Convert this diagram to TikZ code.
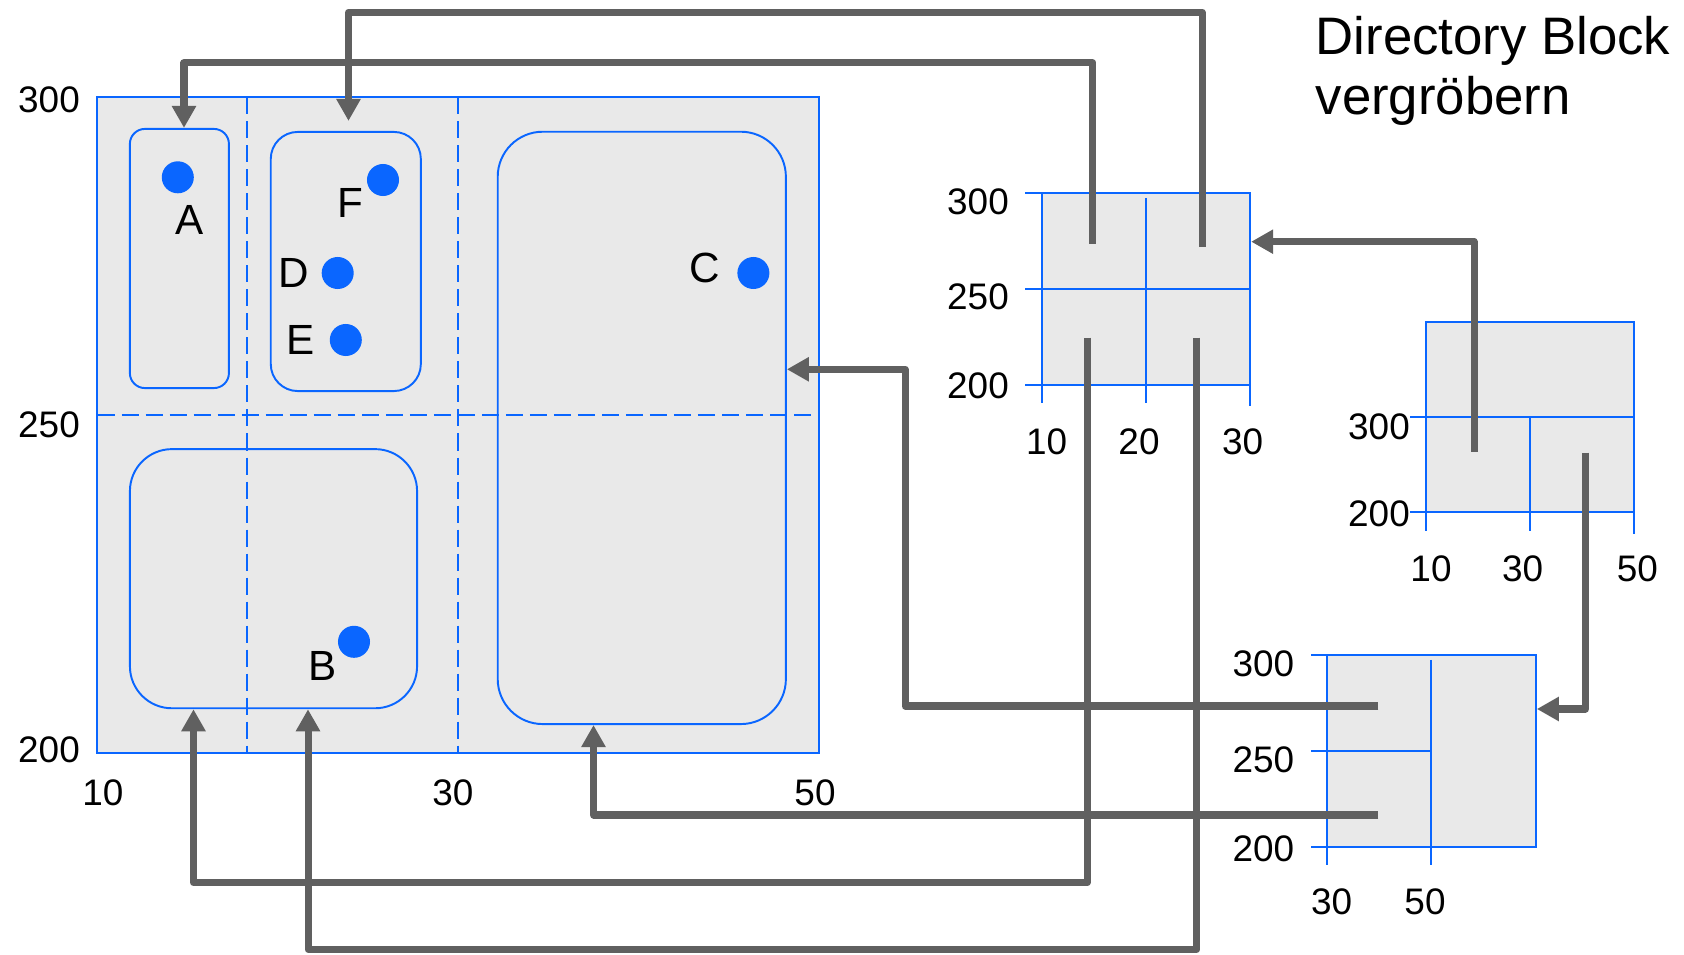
\documentclass[tikz,border=0pt]{standalone}
\usepackage{fontspec}
\setmainfont{Liberation Sans}
\usetikzlibrary{arrows.meta,positioning,calc}
\definecolor{dblue}{HTML}{0A66FF}
\definecolor{dfill}{HTML}{E9E9E9}
\definecolor{dgray}{HTML}{606060}
\tikzset{
  page/.style={draw=dblue,fill=dfill,line width=0.6pt,inner sep=0pt},
  grid/.style={draw=dblue,line width=0.55pt},
  split/.style={draw=dblue,line width=0.55pt,dash pattern=on 0.17cm off 0.07cm},
  region/.style={draw=dblue,line width=0.55pt,inner sep=0pt},
  pt/.style={circle,fill=dblue,inner sep=0pt,minimum size=0.32cm},
  lbl/.style={font=\fontsize{12}{14}\selectfont,inner sep=0pt},
  num/.style={font=\fontsize{10.5}{12}\selectfont,inner sep=0pt},
  conn/.style={-{Triangle[length=0.22cm,width=0.23cm]},line width=0.07cm,draw=dgray,line join=round},
}
\begin{document}
\begin{tikzpicture}[x=0.01cm,y=-0.01cm]
  \useasboundingbox (0,0) rectangle (1684,955);
  % data block with split lines
  \node[page,minimum width=7.21cm,minimum height=6.56cm] (blk) at (458,425.2) {};
  \draw[split] (246.6,97.3) -- (246.6,753);
  \draw[split] (458,97.3) -- (458,753);
  \draw[split] (97.6,415) -- (818.4,415);
  \node[region,rounded corners=0.15cm,minimum width=0.99cm,minimum height=2.59cm] (rA) at (179.4,258.5) {};
  \node[region,rounded corners=0.27cm,minimum width=1.50cm,minimum height=2.59cm] (rDEF) at (345.8,261.5) {};
  \node[region,rounded corners=0.45cm,minimum width=2.88cm,minimum height=5.92cm] (rC) at (641.8,427.9) {};
  \node[region,rounded corners=0.42cm,minimum width=2.87cm,minimum height=2.59cm] (rB) at (273.5,578.7) {};
  \foreach \t/\yy in {300/100,250/425,200/750} { \node[num] (by\t) at (49,\yy) {\t}; }
  \foreach \t/\xx in {10/103,30/453,50/815} { \node[num] (bx\t) at (\xx,793) {\t}; }
  % points
  \node[pt] (dA) at (177.8,177.3) {};
  \node[pt] (dF) at (383,180) {};
  \node[pt] (dD) at (337.7,273) {};
  \node[pt] (dE) at (345.8,340) {};
  \node[pt] (dC) at (753.4,273) {};
  \node[pt] (dB) at (354,641.8) {};
  \node[lbl] (lA) at (189.7,220) {A};
  \node[lbl] (lF) at (350.7,203) {F};
  \node[lbl] (lD) at (294,273) {D};
  \node[lbl] (lE) at (300.8,340) {E};
  \node[lbl] (lC) at (704.6,268) {C};
  \node[lbl] (lB) at (322.5,665.7) {B};
  % directory 1
  \node[page,minimum width=2.077cm,minimum height=1.917cm] (dirI) at (1146.2,289.2) {};
  \foreach \yy in {193.3,289.3,385} { \draw[grid] (1025,\yy) -- (1250,\yy); }
  \draw[grid] (1042.3,193.3) -- (1042.3,403.3);
  \draw[grid] (1146,198) -- (1146,403.3);
  \draw[grid] (1250,193.3) -- (1250,406);
  \foreach \t/\yy in {300/201.7,250/296.7,200/386} { \node[num] (iy\t) at (978,\yy) {\t}; }
  \foreach \t/\xx in {10/1046.7,20/1139,30/1242.7} { \node[num] (ix\t) at (\xx,441.7) {\t}; }
  % directory 2
  \node[page,minimum width=2.08cm,minimum height=1.906cm] (dirII) at (1530,417) {};
  \foreach \yy in {417,512.3} { \draw[grid] (1410,\yy) -- (1634,\yy); }
  \draw[grid] (1426,321.7) -- (1426,530.7);
  \draw[grid] (1530,417) -- (1530,530.7);
  \draw[grid] (1634,321.7) -- (1634,534);
  \foreach \t/\yy in {300/426.7,200/513.3} { \node[num] (iiy\t) at (1379,\yy) {\t}; }
  \foreach \t/\xx in {10/1431,30/1522.7,50/1637.3} { \node[num] (iix\t) at (\xx,568.3) {\t}; }
  % directory 3
  \node[page,minimum width=2.084cm,minimum height=1.917cm] (dirIII) at (1431.5,750.8) {};
  \draw[grid] (1311,655) -- (1535.7,655);
  \draw[grid] (1311,751) -- (1431.3,751);
  \draw[grid] (1311,846.7) -- (1535.7,846.7);
  \draw[grid] (1327.3,655) -- (1327.3,865);
  \draw[grid] (1431.3,660) -- (1431.3,865);
  \foreach \t/\yy in {300/663.3,250/759.3,200/848.3} { \node[num] (iiiy\t) at (1263.3,\yy) {\t}; }
  \foreach \t/\xx in {30/1331.7,50/1425} { \node[num] (iiix\t) at (\xx,901.7) {\t}; }
  % title
  \node[font=\fontsize{15}{17.2}\selectfont,inner sep=0pt,anchor=north west,align=left] (title) at (1315,15.5) {Directory Block\\vergröbern};
  % pointers
  \coordinate (s1) at (1092.7,244);   \coordinate (k1) at (184,62.7);
  \coordinate (s2) at (1202,246.7);   \coordinate (k2) at (348.5,12.3);
  \coordinate (s3) at (1378.3,706);   \coordinate (k3) at (905,369.3);
  \coordinate (s4) at (1087.3,337.7); \coordinate (k4) at (193.5,882.5);
  \coordinate (s5) at (1196.7,337.7); \coordinate (k5) at (308,949.5);
  \coordinate (s6) at (1378.3,815);   \coordinate (k6) at (593.5,815);
  \coordinate (s7) at (1474,451.7);   \coordinate (k7) at (1474,241.7);
  \coordinate (s8) at (1585.7,452.7); \coordinate (k8) at (1585.7,709);
  \draw[conn] (s1) |- (k1) -- (k1 |- rA.north);
  \draw[conn] (s2) |- (k2) -- ($(k2 |- rDEF.north)+(0,-10)$);
  \draw[conn] (s3) -| (k3) -- (k3 -| rC.east);
  \draw[conn] (s4) |- (k4) -- (k4 |- rB.south);
  \draw[conn] (s5) |- (k5) -- (k5 |- rB.south);
  \draw[conn] (s6) -- (k6) -- (k6 |- rC.south);
  \draw[conn] (s7) -- (k7) -- (k7 -| dirI.east);
  \draw[conn] (s8) -- (k8) -- (k8 -| dirIII.east);
\end{tikzpicture}
\end{document}
